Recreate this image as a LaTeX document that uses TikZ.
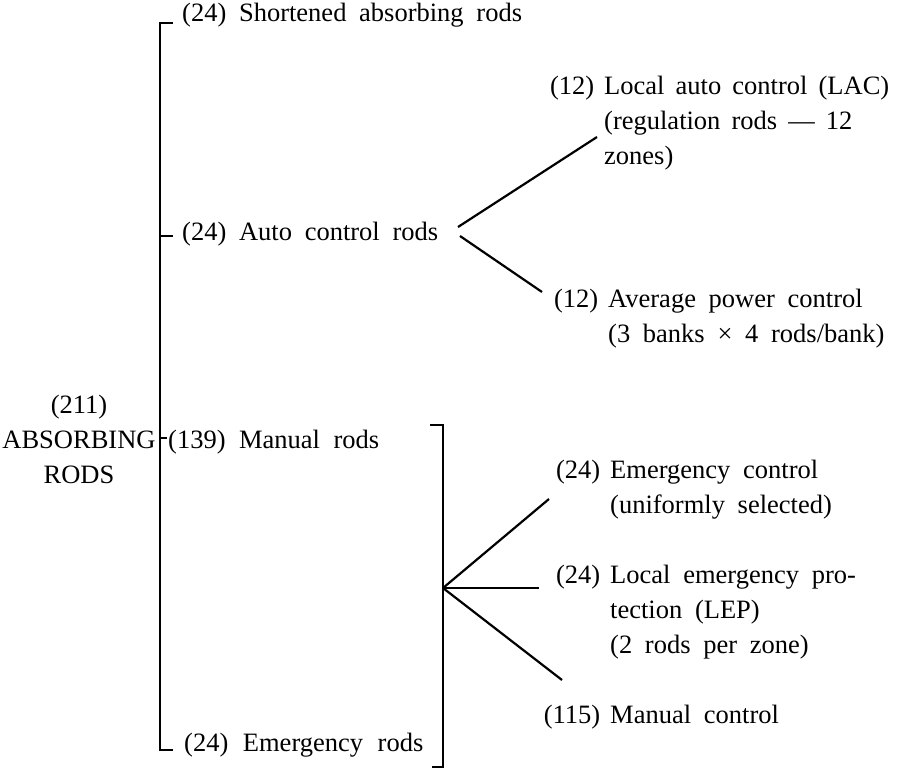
\documentclass[tikz,border=0pt]{standalone}
\usepackage{fontspec}
\setmainfont{Liberation Serif}
\newcommand\lblfont{\fontsize{26.5}{35}\selectfont\spaceskip=0.48em\relax}
\newcommand\wsp[1]{\spaceskip=#1em\relax}
\begin{document}
\begin{tikzpicture}[x=1pt,y=-1pt,
  lbl/.style={anchor=base west, inner sep=0pt, font=\lblfont},
  cen/.style={anchor=base, inner sep=0pt, font=\lblfont},
  brk/.style={line width=2.6pt, line cap=butt, line join=miter},
  fan/.style={line width=2.2pt, line cap=butt}]
\useasboundingbox (0,0) rectangle (897,768);
\fill[white] (0,0) rectangle (897,768);

% left column
\node[cen] (total) at (79,413) {\begin{tabular}[t]{@{}c@{}}(211)\\ABSORBING\\RODS\end{tabular}};
\node[lbl] (short) at (182,22) {(24) Shortened absorbing rods};
\node[lbl] (auto) at (182,240) {(24) Auto control rods};
\node[lbl] (manual) at (168,448) {\wsp{0.51}(139) Manual rods};
\node[lbl] (emerg) at (184,751) {\wsp{0.55}(24) Emergency rods};

% right column
\node[lbl] (lac) at (604,95) {\wsp{0.42}\begin{tabular}[t]{@{}l@{}}\llap{(12)\hspace{10pt}}Local auto control (LAC)\\(regulation rods — 12\\zones)\end{tabular}};
\node[lbl] (apc) at (608,307) {\begin{tabular}[t]{@{}l@{}}\llap{(12)\hspace{10pt}}Average power control\\(3 banks × 4 rods/bank)\end{tabular}};
\node[lbl] (ec) at (610,478) {\begin{tabular}[t]{@{}l@{}}\llap{(24)\hspace{10pt}}Emergency control\\(uniformly selected)\end{tabular}};
\node[lbl] (lep) at (610,583) {\begin{tabular}[t]{@{}l@{}}\llap{(24)\hspace{10pt}}Local emergency pro-\\tection (LEP)\\(2 rods per zone)\end{tabular}};
\node[lbl] (mc) at (610,723) {\begin{tabular}[t]{@{}l@{}}\llap{(115)\hspace{10pt}}Manual control\end{tabular}};

% coordinates of the brackets
\coordinate (lTop) at (160,23);
\coordinate (lTopT) at (173,23);
\coordinate (lBot) at (160,750);
\coordinate (lBotT) at (173,750);
\coordinate (lAuto) at (160,236);
\coordinate (lAutoT) at (173,236);
\coordinate (lMan) at (160,438);
\coordinate (lManT) at (167,438);
\coordinate (rTopT) at (430,425);
\coordinate (rTop) at (443,425);
\coordinate (rBot) at (443,767);
\coordinate (rBotT) at (432,767);

% fans
\coordinate (aU0) at (458,227);
\coordinate (aU1) at (597,137);
\coordinate (aL0) at (460,236);
\coordinate (aL1) at (542,292);
\coordinate (mO) at (443,588);
\coordinate (mU) at (549,499);
\coordinate (mM) at (539,588);
\coordinate (mL) at (562,680);

\draw[brk] (lTopT) -- (lTop) -- (lBot) -- (lBotT);
\draw[brk] (lAuto) -- (lAutoT);
\draw[brk] (lMan) -- (lManT);
\draw[brk] (rTopT) -- (rTop) -- (rBot) -- (rBotT);

\draw[fan] (aU0) -- (aU1);
\draw[fan] (aL0) -- (aL1);
\draw[fan] (mO) -- (mU);
\draw[fan] (mO) -- (mM);
\draw[fan] (mO) -- (mL);
\end{tikzpicture}
\end{document}
